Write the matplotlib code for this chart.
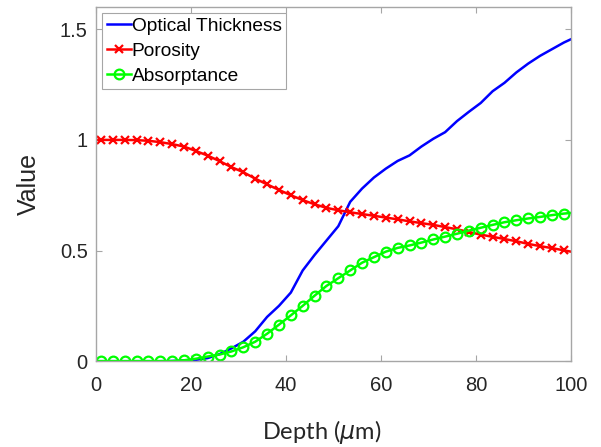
import numpy as np
import matplotlib
matplotlib.use('Agg')
import matplotlib.pyplot as plt

plt.rcParams['font.family'] = 'Liberation Sans'
plt.rcParams['mathtext.fontset'] = 'dejavusans'

# depth samples (um); markers sit on the interior points
depth = [0, 1, 3.5, 6, 8.5, 11, 13.5, 16, 18.5, 21, 23.5, 26, 28.5, 31, 33.5, 36,
         38.5, 41, 43.5, 46, 48.5, 51, 53.5, 56, 58.5, 61, 63.5, 66, 68.5, 71,
         73.5, 76, 78.5, 81, 83.5, 86, 88.5, 91, 93.5, 96, 98.5, 100]

optical_thickness = [0, 0, 0, 0, 0, 0, 0, 0.001, 0.003, 0.006, 0.014, 0.032, 0.058,
                     0.088, 0.135, 0.200, 0.250, 0.310, 0.410, 0.480, 0.545, 0.610,
                     0.720, 0.780, 0.830, 0.870, 0.905, 0.930, 0.970, 1.005, 1.035,
                     1.085, 1.127, 1.167, 1.220, 1.258, 1.305, 1.345, 1.380, 1.410,
                     1.440, 1.455]

porosity = [1.0, 1.0, 1.0, 1.0, 0.999, 0.996, 0.990, 0.981, 0.970, 0.950, 0.929,
            0.904, 0.877, 0.854, 0.825, 0.799, 0.774, 0.750, 0.728, 0.709, 0.693,
            0.682, 0.673, 0.665, 0.657, 0.649, 0.641, 0.632, 0.624, 0.616, 0.606,
            0.596, 0.584, 0.572, 0.562, 0.552, 0.542, 0.530, 0.520, 0.511, 0.501,
            0.495]

absorptance = [0, 0, 0, 0, 0, 0, 0, 0, 0.004, 0.011, 0.021, 0.030, 0.044, 0.063,
               0.088, 0.124, 0.165, 0.207, 0.250, 0.296, 0.340, 0.375, 0.410, 0.445,
               0.470, 0.495, 0.512, 0.523, 0.536, 0.550, 0.563, 0.576, 0.590, 0.603,
               0.616, 0.628, 0.637, 0.645, 0.652, 0.660, 0.667, 0.670]

marks = list(range(1, len(depth) - 1))

fig = plt.figure(figsize=(6.01, 4.47), dpi=100)
ax = fig.add_axes([0.16, 0.192, 0.79, 0.792])

ax.plot(depth, optical_thickness, color=(0, 0, 1), lw=1.8, label='Optical Thickness')
ax.plot(depth, porosity, color=(1, 0, 0), lw=1.8, marker='x', ms=6, mew=1.6,
        markevery=marks, label='Porosity')
ax.plot(depth, absorptance, color=(0, 1, 0), lw=1.8, marker='o', ms=7, mew=1.6,
        mfc='none', markevery=marks, label='Absorptance')

ax.set_xlim(0, 100)
ax.set_ylim(0, 1.6)
ax.set_xticks([0, 20, 40, 60, 80, 100])
ax.set_yticks([0, 0.5, 1, 1.5])
ax.set_yticklabels(['0', '0.5', '1', '1.5'])

# matlab-like box: grey frame, inward ticks on every side
for s in ax.spines.values():
    s.set_color('#a6a6a6')
    s.set_linewidth(1.0)
ax.tick_params(direction='in', top=True, right=True, length=4, width=0.8,
               color='#a6a6a6', labelcolor='#262626', labelsize=14.5)
ax.tick_params(axis='x', pad=11)
ax.tick_params(axis='y', pad=6)

ax.set_ylabel('Value', fontsize=18, color='#262626', labelpad=14)
ax.set_xlabel(r'Depth ($\mu$m)', fontsize=17, family='Lato', color='#262626',
              labelpad=16)
ax.xaxis.label.set_x(0.475)

leg = ax.legend(loc='upper left', fontsize=13.8, handlelength=1.25, handletextpad=0.05,
                labelspacing=0.38, borderpad=0.25, borderaxespad=0.3, fancybox=False,
                edgecolor='#a6a6a6', framealpha=1)
leg.get_frame().set_linewidth(0.8)

fig.savefig('out.png', dpi=100)
